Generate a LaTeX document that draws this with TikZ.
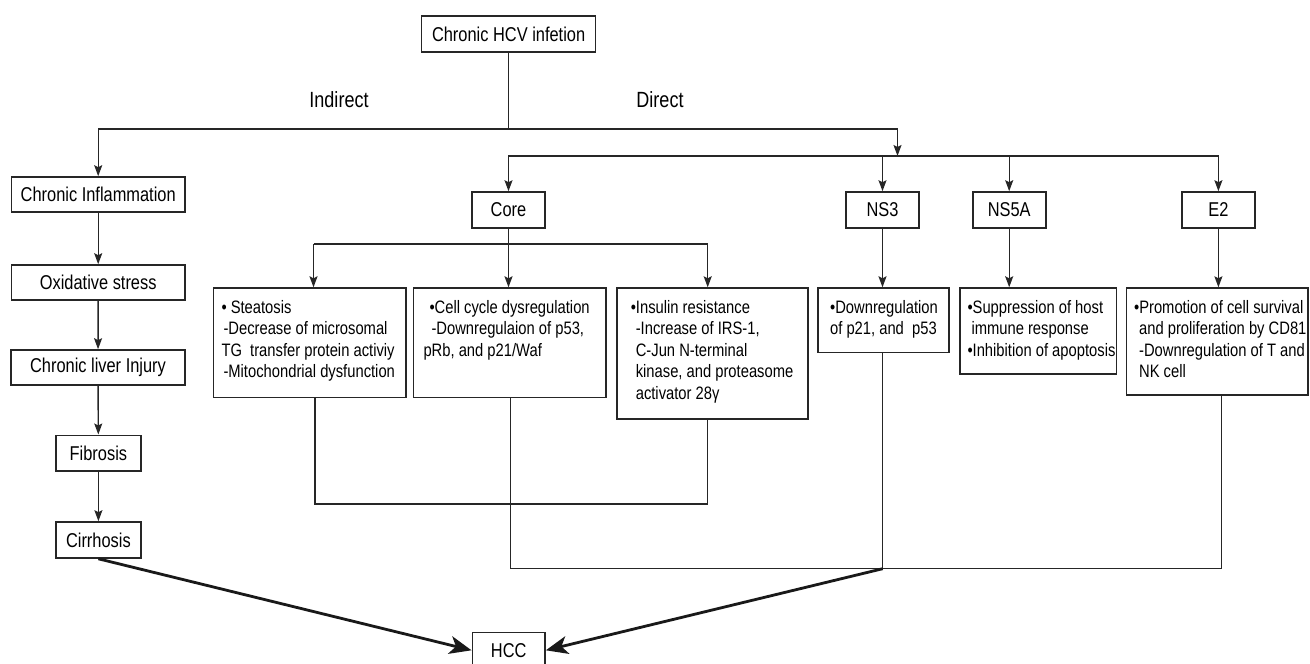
\documentclass[tikz,border=0pt]{standalone}
\usepackage{fontspec}
\setmainfont{Liberation Sans}[FakeStretch=0.82]
\usetikzlibrary{arrows.meta}

\begin{document}
\begin{tikzpicture}
[every node/.style={inner sep=0pt, font=\fontsize{20pt}{24pt}\selectfont, text=black},
 bx/.style={rectangle, draw=black!85, line width=1.6pt, minimum height=36pt},
 tbx/.style={rectangle, draw=black!85, line width=1.6pt, anchor=north west, inner xsep=0pt, inner ysep=10pt, font=\fontsize{18pt}{21.5pt}\selectfont},
 ln/.style={draw=black!85, line width=1.4pt},
 ar/.style={ln, -{Stealth[length=11pt, width=8pt, inset=2pt]}},
 bigar/.style={draw=black!90, line width=2.8pt, -{Stealth[length=22pt, width=18pt, inset=6pt]}}]
\useasboundingbox (0pt, 0pt) rectangle (1310pt, -664pt);
% top and labels
\node (hcv) [bx, minimum width=174pt] at (508.6pt, -34pt) {Chronic HCV infetion};
\node (indirect) [font=\fontsize{22pt}{26pt}\selectfont] at (339pt, -100pt) {Indirect};
\node (direct) [font=\fontsize{22pt}{26pt}\selectfont] at (660pt, -100pt) {Direct};
% indirect branch
\node (inflam) [bx, minimum width=173.6pt, minimum height=35pt] at (98.2pt, -194.5pt) {Chronic Inflammation};
\node (oxid) [bx, minimum width=173.6pt, minimum height=35pt] at (98.2pt, -282.5pt) {Oxidative stress};
\node (injury) [bx, minimum width=174.3pt, minimum height=35pt] at (98pt, -367.5pt) {Chronic liver Injury};
\node (fibrosis) [bx, minimum width=85.3pt, minimum height=35.4pt] at (98.4pt, -453pt) {Fibrosis};
\node (cirrhosis) [bx, minimum width=85.3pt] at (98.4pt, -540pt) {Cirrhosis};
\node (hcc) [bx, minimum width=72.7pt] at (508.7pt, -650.3pt) {HCC};
% direct branch
\node (core) [bx, minimum width=73pt] at (508.5pt, -210pt) {Core};
\node (ns3) [bx, minimum width=73pt] at (882.5pt, -210pt) {NS3};
\node (ns5a) [bx, minimum width=73pt] at (1009.2pt, -210pt) {NS5A};
\node (e2) [bx, minimum width=73pt] at (1218.4pt, -210pt) {E2};
\node (steat) [tbx] at (212.7pt, -287.3pt) {\parbox[t][89.4pt][t]{192.3pt}{\begin{tabular}[t]{@{\hspace{8pt}}l@{}}%
• Steatosis\\\hspace*{2pt}-Decrease of microsomal\\TG\ \ transfer protein activiy\\\hspace*{2pt}-Mitochondrial dysfunction\end{tabular}}};
\node (cellc) [tbx] at (412.7pt, -287.3pt) {\parbox[t][89.4pt][t]{192.3pt}{\begin{tabular}[t]{@{\hspace{10pt}}l@{}}%
\hspace*{6pt}•Cell cycle dysregulation\\\hspace*{8pt}-Downregulaion of p53,\\pRb, and p21/Waf\end{tabular}}};
\node (insul) [tbx] at (616.3pt, -287.3pt) {\parbox[t][111pt][t]{191pt}{\begin{tabular}[t]{@{\hspace{10pt}}l@{}}%
\hspace*{3.7pt}•Insulin resistance\\\hspace*{8.7pt}-Increase of IRS-1,\\\hspace*{8.7pt}C-Jun N-terminal\\\hspace*{8.7pt}kinase, and proteasome\\\hspace*{8.7pt}activator 28γ\end{tabular}}};
\node (ns3txt) [tbx] at (817.3pt, -287.3pt) {\parbox[t][44.4pt][t]{131pt}{\begin{tabular}[t]{@{\hspace{12pt}}l@{}}%
•Downregulation\\of p21, and\ \ p53\end{tabular}}};
\node (ns5atxt) [tbx] at (959.3pt, -287.3pt) {\parbox[t][66pt][t]{156.4pt}{\begin{tabular}[t]{@{\hspace{7.4pt}}l@{}}%
•Suppression of host\\\hspace*{4pt}immune response\\•Inhibition of apoptosis\end{tabular}}};
\node (e2txt) [tbx] at (1125.7pt, -287.3pt) {\parbox[t][86.7pt][t]{181.5pt}{\begin{tabular}[t]{@{\hspace{7.6pt}}l@{}}%
•Promotion of cell survival\\\hspace*{5pt}and proliferation by CD81\\\hspace*{5pt}-Downregulation of T and\\\hspace*{5pt}NK cell\end{tabular}}};
% junction points
\coordinate (ind) at (98.2pt, -129pt);
\coordinate (dir) at (897.5pt, -129pt);
\coordinate (dirbar) at (897.5pt, -156pt);
\coordinate (cl) at (313.5pt, -244pt);
\coordinate (cr) at (707.7pt, -244pt);
\coordinate (sb) at (315pt, -504pt);
\coordinate (ib) at (707.7pt, -504pt);
\coordinate (cb) at (510.4pt, -568.7pt);
\coordinate (join) at (882.7pt, -568.7pt);
\coordinate (eb) at (1221.5pt, -568.7pt);
% connectors
\draw [ar] (hcv.south) |- (ind) -- (inflam.north);
\draw [ar] (hcv.south) |- (dir) -- (dirbar);
\draw [ar] (inflam) -- (oxid);
\draw [ar] (oxid) -- (injury);
\draw [ar] (injury) -- (fibrosis);
\draw [ar] (fibrosis) -- (cirrhosis);
\draw [ar] (dirbar) -| (core.north);
\draw [ar] (dirbar) -| (e2.north);
\draw [ar] (ns3 |- dirbar) -- (ns3.north);
\draw [ar] (ns5a |- dirbar) -- (ns5a.north);
\draw [ln] (cl) -- (cr);
\draw [ar] (core.south) -- (core.south |- cellc.north);
\draw [ar] (cl) -- (cl |- steat.north);
\draw [ar] (cr) -- (cr |- insul.north);
\draw [ar] (ns3.south) -- (ns3.south |- ns3txt.north);
\draw [ar] (ns5a.south) -- (ns5a.south |- ns5atxt.north);
\draw [ar] (e2.south) -- (e2.south |- e2txt.north);
\draw [ln] (sb |- steat.south) -- (sb) -- (ib) -- (ib |- insul.south);
\draw [ln] (cb |- cellc.south) -- (cb) -- (eb) -- (eb |- e2txt.south);
\draw [ln] (join |- ns3txt.south) -- (join);
\draw [bigar] (join) -- (hcc.east);
\draw [bigar] (cirrhosis.south) -- (hcc.west);
\end{tikzpicture}
\end{document}
